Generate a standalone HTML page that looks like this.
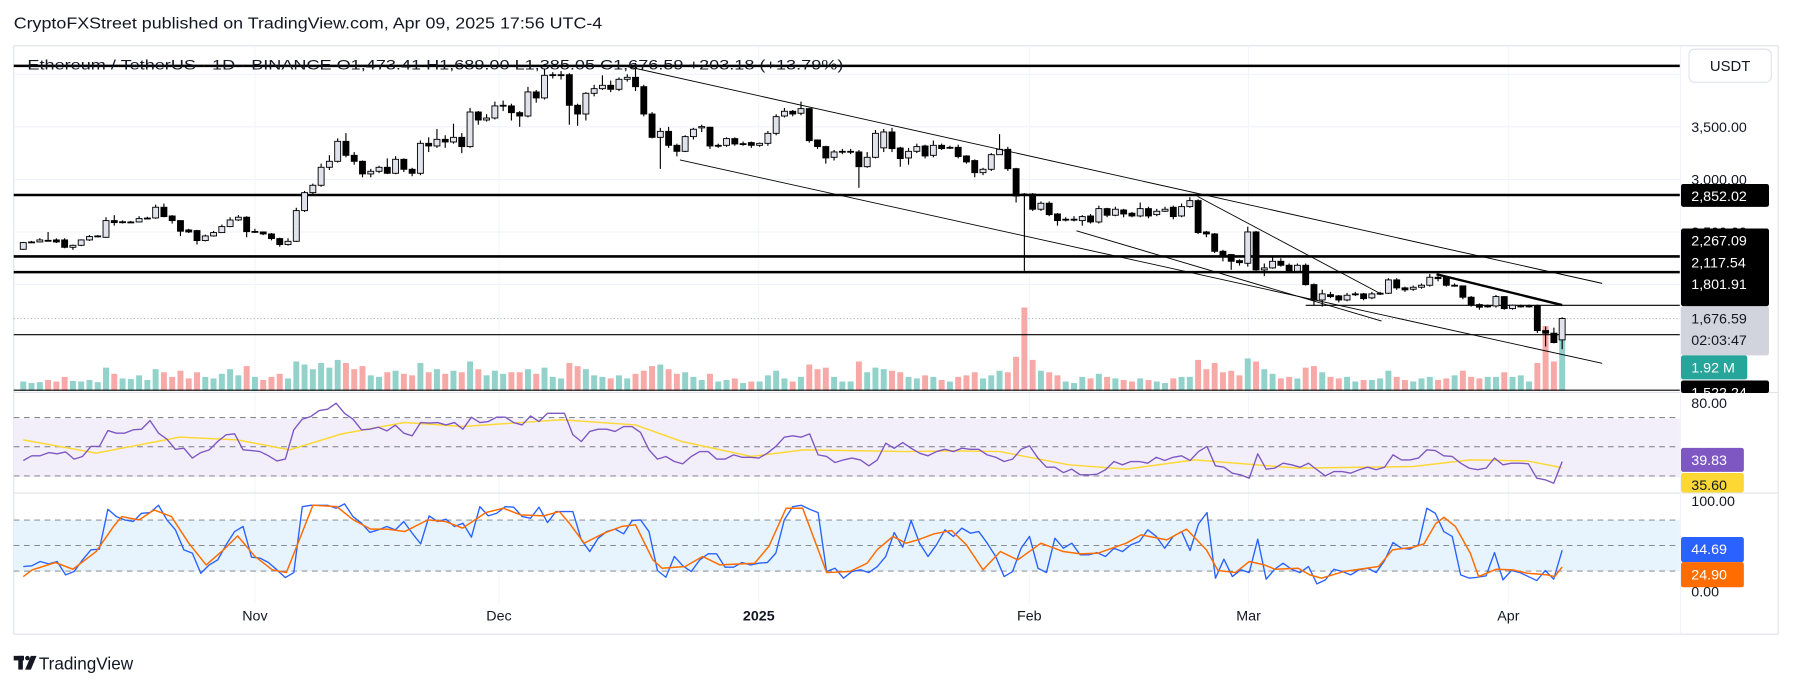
<!DOCTYPE html>
<html><head><meta charset="utf-8"><style>
html,body{margin:0;padding:0;background:#fff;}
svg{display:block;font-family:"Liberation Sans",Arial,sans-serif;}
</style></head><body>
<svg id="chart" width="1793" height="689" viewBox="0 0 1569 603" preserveAspectRatio="none" xmlns="http://www.w3.org/2000/svg">
<rect x="0" y="0" width="1569" height="603" fill="#ffffff"/>
<text x="12" y="25" font-size="13.5" fill="#131722" textLength="515" lengthAdjust="spacingAndGlyphs">CryptoFXStreet published on TradingView.com, Apr 09, 2025 17:56 UTC-4</text>
<rect x="12" y="40" width="1544" height="515" fill="none" stroke="#e0e3eb" stroke-width="1"/>
<g id="grid"></g>
<rect x="12" y="366.5" width="1458" height="51" fill="#f3effa"/>
<rect x="12" y="455.2" width="1458" height="44.6" fill="#e8f4fd"/>
<g id="vol"></g>
<g id="levels"></g>
<g id="candles"></g>
<g id="trend"></g>
<g id="ind"></g>
<text x="24" y="61" font-size="12.5" fill="#131722" textLength="714" lengthAdjust="spacingAndGlyphs">Ethereum / TetherUS · 1D · BINANCE  O1,473.41  H1,689.00  L1,385.05  C1,676.59  +203.18 (+13.79%)</text>
<line x1="12" y1="343.5" x2="1556" y2="343.5" stroke="#e0e3eb"/>
<line x1="12" y1="431.5" x2="1556" y2="431.5" stroke="#e0e3eb"/>
<line x1="1470.5" y1="40" x2="1470.5" y2="555" stroke="#f0f3fa"/>
<g id="axis" font-size="12.5" fill="#131722"></g>
<g id="taxis" font-size="12.5" fill="#131722"></g>
<rect x="1478" y="43" width="72" height="29" rx="5" fill="#fff" stroke="#e0e3eb"/>
<text x="1514" y="62" font-size="13" fill="#131722" text-anchor="middle">USDT</text>
<g>
<rect x="12" y="574" width="9" height="4" fill="#131722"/><rect x="16" y="574" width="4" height="12" fill="#131722"/>
<circle cx="24" cy="576" r="2" fill="#131722"/><polygon points="27,574 32,574 27,586 22,586" fill="#131722"/>
<text x="34" y="586" font-size="15" fill="#131722">TradingView</text></g>
</svg>
<script>
const opens=[2335,2400,2405,2420,2424,2424,2354,2373,2424,2460,2449,2608,2595,2595,2595,2630,2633,2735,2652,2608,2519,2513,2418,2462,2494,2551,2614,2640,2503,2500,2481,2437,2380,2411,2703,2874,2944,3115,3172,3362,3229,3172,3052,3077,3115,3058,3191,3096,3058,3343,3318,3381,3356,3400,3312,3641,3565,3584,3700,3699,3635,3603,3832,3775,3990,3996,3996,3705,3622,3819,3863,3895,3857,3952,3971,3882,3622,3400,3457,3324,3267,3407,3490,3496,3324,3324,3388,3337,3350,3324,3343,3438,3603,3648,3629,3673,3375,3312,3210,3265,3267,3261,3121,3210,3300,3451,3299,3204,3267,3318,3229,3324,3305,3305,3223,3179,3064,3096,3235,3286,3102,2861,2861,2716,2773,2671,2621,2621,2608,2652,2595,2722,2659,2709,2678,2652,2722,2665,2697,2735,2652,2741,2798,2500,2481,2316,2285,2227,2202,2500,2139,2158,2221,2183,2126,2183,1999,1853,1904,1892,1853,1911,1911,1873,1917,1917,2044,1968,1955,1974,1993,2069,2069,1993,1987,1879,1809,1796,1796,1885,1771,1796,1796,1796,1562,1537,1473.41];
const closes=[2399,2405,2424,2418,2405,2354,2373,2424,2456,2462,2608,2589,2597,2595,2627,2632,2735,2646,2608,2507,2500,2418,2462,2494,2551,2614,2640,2503,2505,2481,2437,2380,2411,2703,2874,2944,3115,3172,3362,3229,3172,3052,3077,3115,3058,3191,3096,3058,3343,3318,3381,3356,3400,3312,3641,3565,3584,3699,3705,3635,3603,3832,3775,3990,3996,3996,3705,3622,3819,3863,3895,3857,3952,3971,3882,3622,3400,3457,3324,3267,3407,3477,3502,3318,3324,3388,3337,3340,3324,3343,3438,3597,3648,3622,3673,3369,3312,3204,3261,3267,3267,3121,3210,3438,3451,3293,3198,3267,3312,3223,3324,3293,3305,3217,3166,3064,3096,3235,3286,3102,2842,2855,2716,2773,2665,2608,2621,2621,2646,2595,2722,2659,2716,2671,2652,2722,2652,2697,2716,2646,2741,2798,2494,2481,2316,2278,2221,2208,2500,2139,2158,2221,2183,2126,2183,1999,1853,1911,1885,1853,1898,1911,1866,1911,1917,2044,1968,1949,1974,1993,2069,2056,1993,1993,1879,1809,1784,1796,1885,1771,1803,1796,1796,1562,1537,1448,1676.59];
const highs=[2405,2415,2440,2500,2440,2440,2380,2430,2470,2470,2640,2660,2610,2605,2650,2645,2760,2770,2660,2610,2530,2520,2475,2510,2570,2640,2660,2650,2530,2505,2490,2445,2440,2730,2890,2960,3150,3230,3390,3440,3260,3180,3100,3130,3200,3220,3200,3110,3370,3400,3480,3420,3530,3440,3680,3650,3620,3740,3750,3720,3650,3880,3850,4050,4020,4030,4010,3720,3830,3900,3990,3940,3970,4000,4108,3900,3640,3490,3500,3340,3420,3490,3520,3500,3340,3400,3400,3360,3360,3350,3460,3620,3680,3660,3740,3680,3380,3320,3280,3290,3290,3280,3260,3470,3480,3490,3310,3300,3340,3330,3370,3340,3320,3330,3230,3190,3110,3250,3430,3310,3110,2870,2870,2790,2790,2680,2640,2650,2660,2670,2750,2730,2740,2720,2690,2780,2740,2720,2740,2750,2770,2830,2810,2510,2490,2330,2290,2240,2550,2510,2200,2260,2250,2200,2200,2200,2010,1950,1930,1900,1920,1930,1920,1930,1930,2060,2060,1980,1990,2010,2100,2090,2080,2010,1990,1890,1820,1810,1900,1890,1810,1810,1810,1810,1600,1590,1689];
const lows=[2330,2395,2400,2410,2395,2345,2330,2365,2415,2450,2445,2560,2580,2585,2590,2620,2625,2640,2580,2460,2490,2380,2410,2455,2490,2545,2605,2450,2490,2470,2420,2360,2370,2405,2690,2860,2930,3090,3160,3210,3140,3020,3020,3060,3050,3050,3070,3030,3040,3260,3300,3300,3340,3250,3300,3520,3550,3570,3650,3560,3500,3590,3730,3760,3960,3950,3520,3510,3560,3790,3850,3830,3840,3930,3840,3600,3390,3100,3300,3220,3260,3380,3450,3290,3300,3310,3320,3320,3300,3310,3320,3420,3590,3600,3610,3350,3290,3150,3180,3240,3240,2920,3110,3200,3260,3260,3120,3140,3250,3200,3210,3280,3290,3200,3150,3020,3040,3080,3270,3080,2780,2130,2700,2700,2650,2560,2600,2600,2560,2580,2580,2640,2650,2640,2640,2640,2630,2650,2690,2620,2640,2730,2480,2450,2300,2220,2140,2180,2170,2130,2080,2150,2170,2110,2110,1990,1800,1790,1870,1830,1840,1890,1850,1860,1900,1910,1950,1930,1940,1960,1980,2030,1980,1980,1860,1790,1760,1780,1780,1760,1760,1780,1780,1540,1410,1440,1385];
const volumes=[0.30,0.25,0.28,0.35,0.30,0.45,0.32,0.30,0.35,0.28,0.75,0.55,0.40,0.38,0.50,0.35,0.70,0.60,0.45,0.65,0.40,0.60,0.45,0.40,0.55,0.70,0.50,0.80,0.45,0.35,0.45,0.55,0.40,0.95,0.85,0.70,0.90,0.75,1.00,0.90,0.70,0.80,0.50,0.45,0.60,0.65,0.55,0.50,0.90,0.60,0.70,0.55,0.65,0.60,0.95,0.70,0.50,0.65,0.55,0.60,0.60,0.70,0.55,0.75,0.45,0.40,0.90,0.80,0.70,0.50,0.45,0.40,0.50,0.40,0.55,0.65,0.80,0.85,0.70,0.55,0.60,0.45,0.35,0.55,0.30,0.35,0.40,0.25,0.30,0.30,0.50,0.65,0.40,0.30,0.45,0.85,0.70,0.75,0.45,0.30,0.30,0.95,0.60,0.75,0.70,0.65,0.60,0.45,0.40,0.50,0.45,0.35,0.30,0.45,0.50,0.60,0.40,0.50,0.65,0.60,1.10,2.70,1.00,0.65,0.60,0.50,0.30,0.25,0.45,0.40,0.55,0.45,0.40,0.35,0.30,0.40,0.35,0.30,0.25,0.40,0.45,0.45,1.00,0.70,0.90,0.60,0.65,0.50,1.05,0.95,0.70,0.55,0.40,0.45,0.40,0.75,0.80,0.60,0.45,0.40,0.45,0.30,0.35,0.35,0.40,0.65,0.45,0.35,0.30,0.40,0.45,0.35,0.40,0.50,0.65,0.45,0.40,0.45,0.45,0.60,0.45,0.50,0.30,0.90,2.10,0.95,1.92];
const rsiValues=[40.6,43.8,43.8,46.0,45.1,46.5,41.5,43.3,50.2,50.2,61.1,59.3,59.3,61.6,62.1,68.0,59.3,55.2,48.3,49.0,42.2,46.0,47.9,53.6,58.2,58.9,47.9,47.4,46.7,43.8,40.3,41.5,61.6,68.9,70.7,74.9,75.8,79.9,73.0,68.9,61.6,62.1,63.4,60.9,64.8,59.3,57.5,66.6,66.2,66.6,65.0,66.6,62.1,70.3,66.6,67.3,70.3,70.3,66.6,65.0,71.2,67.3,73.0,73.0,73.0,58.2,53.6,60.5,62.1,62.1,60.5,63.9,63.9,59.8,47.9,41.5,43.3,39.9,38.3,43.3,46.7,46.7,41.5,41.5,44.4,42.8,42.8,42.2,45.6,50.2,56.6,57.5,56.6,58.9,44.4,43.3,39.2,41.0,42.2,41.0,36.9,41.0,52.4,49.0,52.9,49.0,45.6,43.8,46.7,48.3,46.7,49.0,48.3,48.3,44.4,42.8,39.9,41.5,48.3,50.6,42.2,36.0,36.0,32.3,34.6,30.7,30.7,31.2,34.2,39.9,37.6,39.9,39.9,38.7,42.8,40.6,42.8,43.8,40.6,46.7,50.2,36.9,36.0,31.9,30.7,28.4,45.1,34.6,35.3,38.7,37.6,36.0,38.7,34.2,30.0,33.0,33.0,31.9,34.2,36.0,34.2,36.0,44.4,41.0,41.0,42.2,47.9,47.4,43.8,43.3,38.7,35.3,34.2,35.3,42.2,37.6,38.7,38.7,38.3,28.4,27.3,25.0,39.83];
const rsiMaIdx=[0,8.8,18.9,25.9,32.2,38.5,46.1,53.1,65,74,79.6,88,94.3,106.7,112.6,118,126.4,133.3,141.6,154,168,174.9,181.8,186];
const rsiMaVal=[54.7,45.6,56.6,54.7,47.9,58.9,66.6,63.9,68.5,65,53.6,43.3,47.9,46.7,47.2,46.7,37.6,34.6,41,35.3,36.4,41,40.3,35.6];
const stochK=[25.4,26.2,31.3,28.5,31.3,15.6,19.5,33.2,45.0,45.8,92.8,84.2,80.3,78.3,88.1,88.9,97.5,80.3,68.5,45.0,41.1,17.5,27.3,33.2,50.9,66.5,72.4,36.4,35.2,30.1,21.5,12.4,18.3,95.9,97.5,97.5,97.5,94.0,99.1,84.2,76.3,65.4,68.5,72.4,68.5,78.3,64.6,52.0,85.0,78.3,81.0,72.4,76.3,59.9,95.9,85.0,88.1,95.9,95.2,84.2,82.2,95.2,77.1,90.1,90.1,90.1,56.7,43.0,58.7,66.5,69.3,63.8,79.5,80.3,66.5,20.7,12.8,37.2,26.2,19.5,33.2,40.3,40.3,24.6,24.6,30.1,27.3,29.3,30.1,41.1,80.3,95.9,97.5,92.8,88.9,19.5,23.4,11.7,19.5,21.5,18.3,25.4,37.2,65.4,48.1,79.5,52.8,37.2,50.9,68.5,60.7,70.5,64.6,66.5,52.8,37.2,13.6,19.5,46.9,60.7,23.4,18.3,58.7,46.9,52.8,39.1,39.1,41.8,37.2,46.9,43.0,50.9,54.8,68.5,60.7,46.9,60.7,66.5,44.2,75.6,88.9,11.7,34.0,13.6,21.5,18.3,57.5,10.5,22.2,29.3,22.2,18.3,25.4,5.0,9.7,22.2,19.5,15.6,21.5,23.4,18.3,32.4,53.6,46.9,45.8,50.9,94.0,88.1,66.5,60.7,15.6,11.7,12.8,14.4,41.8,9.7,20.7,18.3,13.6,8.9,20.7,10.5,44.69];
const stochDIdx=[0,1.1,3.9,6,8.8,10.9,11.9,14,15.8,17.9,20,22.1,24.2,25.9,28,30.1,31.8,34,35,37.9,39.9,42,44,46.1,48.9,51,53.1,55.9,58,60.1,62.9,64.8,66,67.8,70.2,72.3,74,76.1,77.2,80,82.1,84.2,88.4,90.1,92.2,94.2,97.1,99.9,102,103.2,105.1,106.7,108.1,110.1,112.2,114,116,118.1,120.2,123,125.7,127.8,129.9,133.3,135.1,138.2,140.6,143,144.4,146.5,148.2,150,151.3,154.1,155.5,156.9,159.6,163.8,165.5,168,169.3,170.7,171.7,173.1,174.9,175.9,178,180,181.8,184.2,185.1,186];
const stochDVal=[13.6,21.5,30.1,22.2,43.0,72.4,84.2,80.3,92.0,84.2,52.8,27.3,45.0,61.4,37.2,21.5,18.3,72.4,97.5,95.9,80.3,69.3,69.3,66.5,80.3,78.3,70.5,88.9,94.0,86.1,85.0,90.1,76.3,52.8,64.6,72.4,74.4,33.2,23.4,25.4,37.2,27.3,29.3,48.9,94.0,94.0,18.3,19.5,29.3,45.0,60.7,52.8,56.7,63.8,67.7,50.9,21.5,43.0,33.2,52.8,43.0,40.3,41.1,52.8,62.6,56.7,69.3,45.0,20.7,18.3,31.3,27.3,22.2,23.4,15.6,11.7,19.5,25.4,45.0,48.1,52.0,75.6,83.4,72.4,41.1,13.6,22.2,21.5,17.5,15.6,13.6,24.9];
const monthLabels=["Nov","Dec","2025","Feb","Mar","Apr"];
const monthIdx=[28,57.5,88.9,121.6,148.1,179.5];
const priceTicks=[3500,3000,2500];
const gridPrices=[4000,3500,3000,2500,2000];
const thickLevels=[4080,2852.02,2267.09,2117.54];
const thinLevels=[1522.24];
const lastPrice=1676.59;

const NS="http://www.w3.org/2000/svg";
const N=opens.length;
function xOf(i){return 1367-(N-1-i)*7.24;}
function yP(p){return 111+(3500-p)*0.092;}
function yV(v){return 342-v*27;}
function yR(v){return 391-(v-50)*1.275;}
function yS(v){return 514.7-0.744*v;}
function mk(tag,parent,attrs){const e=document.createElementNS(NS,tag);for(const k in attrs)e.setAttribute(k,attrs[k]);parent.appendChild(e);return e;}
function seqX(j,n){return xOf(0)+j*(xOf(N-1)-xOf(0))/(n-1);}

const grid=document.getElementById('grid');
gridPrices.forEach(p=>{const l=mk('line',grid,{x1:12,x2:1470,y1:yP(p),y2:yP(p),stroke:'#f0f3fa'});

});
monthIdx.forEach(m=>{const l=mk('line',grid,{x1:xOf(m),x2:xOf(m),y1:40,y2:528,stroke:'#f3f5fa'});

});

const vol=document.getElementById('vol');
volumes.forEach((v,i)=>{const up=closes[i]>=opens[i];const r=mk('rect',vol,{x:xOf(i)-2.6,y:yV(v),width:5.2,height:v*27,fill:up?'#92d2cb':'#f7a9a7'});

});

const lv=document.getElementById('levels');
thickLevels.forEach(p=>{const l=mk('line',lv,{x1:12,x2:1470,y1:yP(p),y2:yP(p),stroke:'#000','stroke-width':2.2});

});
thinLevels.forEach(p=>{const l=mk('line',lv,{x1:12,x2:1470,y1:yP(p),y2:yP(p),stroke:'#000','stroke-width':1});

});
const l18=mk('line',lv,{x1:xOf(155),x2:1470,y1:yP(1801.91),y2:yP(1801.91),stroke:'#000','stroke-width':1});


const lb=mk('line',lv,{x1:12,x2:1470,y1:341.5,y2:341.5,stroke:'#000','stroke-width':1});


const lp=mk('line',lv,{x1:12,x2:1470,y1:yP(lastPrice),y2:yP(lastPrice),stroke:'#b2b5be','stroke-dasharray':'1 2'});



const cg=document.getElementById('candles');
for(let i=0;i<N;i++){const x=xOf(i);const up=closes[i]>=opens[i];
const w=mk('line',cg,{x1:x,x2:x,y1:yP(highs[i]),y2:yP(lows[i]),stroke:'#000','stroke-width':1});


const t=yP(Math.max(opens[i],closes[i]));const b=yP(Math.min(opens[i],closes[i]));
const r=mk('rect',cg,{x:x-2.6,y:t,width:5.2,height:Math.max(0.8,b-t),fill:up?'#e0e3eb':'#000',stroke:'#000','stroke-width':0.8});

}

const tg=document.getElementById('trend');
const tl=[[548,58,1402,248,1],[595,140,1402,318,1],[942,202,1209,281,1],[1048,172,1208,257,1],[1257,240,1367,267,2.6]];
tl.forEach(a=>{const l=mk('line',tg,{x1:a[0],y1:a[1],x2:a[2],y2:a[3],stroke:'#000','stroke-width':a[4]*0.8});

});

const ig=document.getElementById('ind');
[70,50,30].forEach(v=>{const l=mk('line',ig,{x1:12,x2:1470,y1:yR(v),y2:yR(v),stroke:'#787b86','stroke-dasharray':'5 4','stroke-width':0.8});

});
[80,50,20].forEach(v=>{const l=mk('line',ig,{x1:12,x2:1470,y1:yS(v),y2:yS(v),stroke:'#787b86','stroke-dasharray':'5 4','stroke-width':0.8});

});
function poly(pts,color,name,wd){const p=mk('polyline',ig,{points:pts.map(q=>q[0].toFixed(1)+','+q[1].toFixed(1)).join(' '),fill:'none',stroke:color,'stroke-width':wd,'stroke-linejoin':'round'});

}
poly(rsiMaIdx.map((d,k)=>[xOf(d),yR(rsiMaVal[k])]),'#fdd835','rsi-ma-line',1.3);
poly(rsiValues.map((v,j)=>[seqX(j,rsiValues.length),yR(v)]),'#7e57c2','rsi-line',1.2);
poly(stochK.map((v,j)=>[seqX(j,stochK.length),yS(v)]),'#2962ff','stoch-k-line',1.2);
poly(stochDIdx.map((d,k)=>[xOf(d),yS(stochDVal[k])]),'#ff6d00','stoch-d-line',1.3);

const ax=document.getElementById('axis');
priceTicks.forEach(p=>{const t=mk('text',ax,{x:1480,y:yP(p)+4.5});t.textContent=p.toLocaleString('en-US',{minimumFractionDigits:2});

});
function box(y,h,w,fill,txt,col,name){const r=mk('rect',ax,{x:1471,y:y,width:w,height:h,fill:fill,rx:2});


txt.forEach((s,k)=>{const t=mk('text',ax,{x:1480,y:y+15+k*19,fill:col});t.textContent=s;});}
box(161,20,77,'#000',['2,852.02'],'#fff','label-2852');
box(200,68,77,'#000',['2,267.09','2,117.54','1,801.91'],'#fff','label-levels');
box(268,43,77,'#d1d4dc',['1,676.59','02:03:47'],'#131722','label-last-price');
box(311,21,58,'#26a69a',['1.92 M'],'#fff','label-volume');
box(333,11,77,'#000',[],'#fff','label-1522');
const tl15=mk('text',ax,{x:1480,y:348,fill:'#fff'});tl15.textContent='1,522.24';


const t80=mk('text',ax,{x:1480,y:357});t80.textContent='80.00';


box(392,21,55,'#7e57c2',['39.83'],'#fff','label-rsi');
box(414,17,55,'#fdd835',['35.60'],'#131722','label-rsi-ma');
const t100=mk('text',ax,{x:1480,y:443});t100.textContent='100.00';


const t0=mk('text',ax,{x:1480,y:522});t0.textContent='0.00';


box(470,22,55,'#2962ff',['44.69'],'#fff','label-stoch-k');
box(492,22,55,'#ff6d00',['24.90'],'#fff','label-stoch-d');

const ta=document.getElementById('taxis');
monthLabels.forEach((m,k)=>{const t=mk('text',ta,{x:xOf(monthIdx[k]),y:543,'text-anchor':'middle','font-weight':m==='2025'?'bold':'normal'});t.textContent=m;

});
</script>
</body></html>
